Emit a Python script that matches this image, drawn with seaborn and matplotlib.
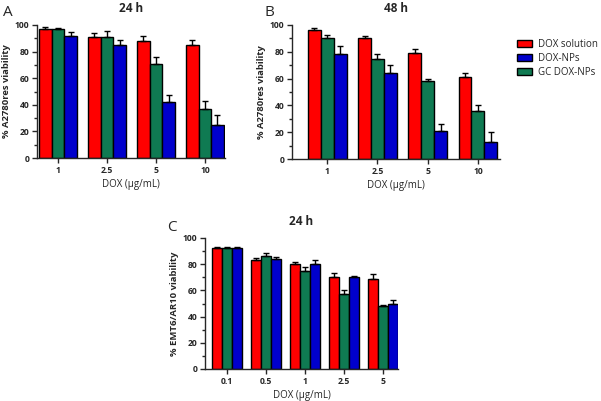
import numpy as np
import pandas as pd
import seaborn as sns
import matplotlib.pyplot as plt
from matplotlib.patches import Patch
from matplotlib.ticker import MultipleLocator

# formulations (order of bars inside a group) and their colours
forms = ["DOX solution", "GC DOX-NPs", "DOX-NPs"]
colors = {"DOX solution": "#ff0000", "GC DOX-NPs": "#0f7a52", "DOX-NPs": "#0000cc"}
legend_order = ["DOX solution", "DOX-NPs", "GC DOX-NPs"]

# panel A: A2780res, 24 h
doses_a = ["1", "2.5", "5", "10"]
a_sol = [97, 91, 88, 85]
a_gc = [97, 91, 71, 37]
a_np = [92, 85, 42, 25]
a_sol_err = [1.5, 3, 4, 4]
a_gc_err = [0.8, 4.5, 5, 6]
a_np_err = [3, 4, 5.5, 7]

# panel B: A2780res, 48 h
doses_b = ["1", "2.5", "5", "10"]
b_sol = [96, 90, 79, 61]
b_gc = [90, 75, 58, 36]
b_np = [78, 64, 21, 13]
b_sol_err = [1.5, 2, 3, 3]
b_gc_err = [2.5, 3, 2, 4]
b_np_err = [6, 6, 5, 7]

# panel C: EMT6/AR10, 24 h
doses_c = ["0.1", "0.5", "1", "2.5", "5"]
c_sol = [92, 83, 80, 70, 69]
c_gc = [92, 86, 75, 57, 48]
c_np = [92, 84, 80, 70, 50]
c_sol_err = [1.5, 1.5, 1.5, 3, 3.5]
c_gc_err = [1.5, 2.5, 2.5, 3, 1]
c_np_err = [1.5, 1.5, 3, 1, 2.5]


def make_df(doses, sol, gc, np_, sol_e, gc_e, np_e):
    rows = []
    for name, vals, errs in [(forms[0], sol, sol_e), (forms[1], gc, gc_e), (forms[2], np_, np_e)]:
        for d, v, e in zip(doses, vals, errs):
            rows.append({"dose": d, "form": name, "value": v, "err": e})
    return pd.DataFrame(rows)


sns.set_theme(style="ticks")
plt.rcParams["font.family"] = ["Open Sans", "DejaVu Sans"]
plt.rcParams["axes.linewidth"] = 1.0

fig = plt.figure(figsize=(6.01, 4.01), dpi=100)
W, H = 601, 401


def px_axes(l, t, r, b):
    return fig.add_axes([l / W, 1 - b / H, (r - l) / W, (b - t) / H])


panels = [
    ("A", "24 h", "% A2780res viability", doses_a,
     make_df(doses_a, a_sol, a_gc, a_np, a_sol_err, a_gc_err, a_np_err),
     (37, 25, 225, 158), (-0.43, 3.41), (8, 12)),
    ("B", "48 h", "% A2780res viability", doses_b,
     make_df(doses_b, b_sol, b_gc, b_np, b_sol_err, b_gc_err, b_np_err),
     (292, 25, 500, 159), (-0.7, 3.44), (269, 12)),
    ("C", "24 h", "% EMT6/AR10 viability", doses_c,
     make_df(doses_c, c_sol, c_gc, c_np, c_sol_err, c_gc_err, c_np_err),
     (205, 238, 398, 369), (-0.56, 4.38), (172, 227)),
]

for letter, title, ylab, doses, df, box, xlim, lpos in panels:
    ax = px_axes(*box)
    sns.barplot(data=df, x="dose", y="value", hue="form", order=doses,
                hue_order=forms, palette=colors, width=0.77, errorbar=None,
                edgecolor="black", linewidth=1.0, saturation=1, legend=False, ax=ax)
    # upper-only error bars
    for cont, name in zip(ax.containers, forms):
        sub = df[df["form"] == name].set_index("dose").loc[doses]
        xs = [p.get_x() + p.get_width() / 2 for p in cont.patches]
        ax.errorbar(xs, sub["value"], yerr=[np.zeros(len(xs)), sub["err"]],
                    fmt="none", ecolor="black", elinewidth=1.0, capsize=2, capthick=1.0)
    ax.set_ylim(0, 100)
    ax.set_xlim(*xlim)
    ax.yaxis.set_major_locator(MultipleLocator(20))
    ax.yaxis.set_minor_locator(MultipleLocator(10))
    ax.tick_params(axis="both", which="major", length=3.5, width=1, labelsize=6.2, pad=2)
    ax.tick_params(axis="y", which="minor", length=2, width=1)
    for lab in ax.get_xticklabels() + ax.get_yticklabels():
        lab.set_fontweight("bold")
    sns.despine(ax=ax)
    ax.set_title(title, fontsize=8.5, fontweight="bold", pad=9)
    ax.set_ylabel(ylab, fontsize=6.8, fontweight="bold", labelpad=3)
    ax.set_xlabel("DOX (µg/mL)", fontsize=7, labelpad=3)
    fig.text(lpos[0] / W, 1 - lpos[1] / H, letter, fontsize=11, ha="center", va="center")

handles = [Patch(facecolor=colors[n], edgecolor="black", linewidth=1.0, label=n) for n in legend_order]
fig.legend(handles=handles, loc="upper left", bbox_to_anchor=(513 / W, 1 - 35 / H),
           frameon=False, fontsize=7, handlelength=1.6, handleheight=0.8,
           handletextpad=0.6, labelspacing=0.3, borderaxespad=0)

fig.savefig("out.png", dpi=100)
